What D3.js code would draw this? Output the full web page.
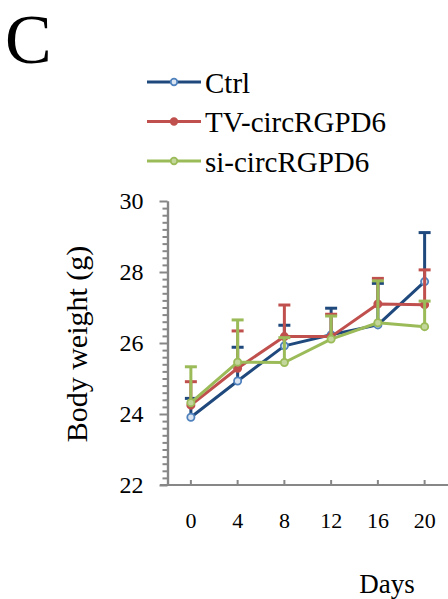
<!DOCTYPE html>
<html>
<head>
<meta charset="utf-8">
<script src="https://cdn.jsdelivr.net/npm/d3@7"></script>
<style>
  html, body { margin: 0; padding: 0; background: #fff; }
  svg { display: block; }
</style>
</head>
<body>
<svg id="chart" width="448" height="599"></svg>
<script>
// Body weight over time, three treatment groups (mean + upper SD bar)
const days = [0, 4, 8, 12, 16, 20];
const seriesNames = ["Ctrl", "TV-circRGPD6", "si-circRGPD6"];
const ctrlMean = [23.91, 24.93, 25.92, 26.23, 26.51, 27.73];
const ctrlErr  = [0.53, 0.95, 0.58, 0.75, 1.17, 1.38];
const tvMean   = [24.25, 25.29, 26.18, 26.18, 27.10, 27.08];
const tvErr    = [0.66, 1.05, 0.89, 0.63, 0.72, 0.98];
const siMean   = [24.32, 25.46, 25.45, 26.11, 26.57, 26.46];
const siErr    = [1.01, 1.19, 0.70, 0.65, 1.18, 0.72];
const yMajorTicks = [22, 24, 26, 28, 30];

const SERIF = "Liberation Serif";

const styles = [
  { line: "#1f497d", mFill: "#dbe5f1", mStroke: "#4f81bd" },
  { line: "#c0504d", mFill: "#c0504d", mStroke: "#c0504d" },
  { line: "#9bbb59", mFill: "#c3d69b", mStroke: "#9bbb59" }
];
const series = [
  { name: seriesNames[0], mean: ctrlMean, err: ctrlErr },
  { name: seriesNames[1], mean: tvMean, err: tvErr },
  { name: seriesNames[2], mean: siMean, err: siErr }
];

const svg = d3.select("#chart");
const axisColor = "#878787";

const plotLeft = 167.5, plotRight = 448, plotTop = 201, plotBottom = 485;

const x = d3.scaleBand().domain(days).range([plotLeft, plotRight]).paddingInner(0).paddingOuter(0);
const xc = d => x(d) + x.bandwidth() / 2;
const y = d3.scaleLinear().domain([22, 30]).range([plotBottom, plotTop]);

function label(sel, size) {
  return sel.attr("font-family", SERIF).attr("font-size", size).attr("fill", "#000");
}

// Panel letter
label(svg.append("text").attr("x", 5).attr("y", 63), 70).text("C");

// Legend
const legend = svg.append("g");
series.forEach((s, i) => {
  const ly = 82 + i * 39.5;
  const g = legend.append("g");
  g.append("line").attr("x1", 147).attr("x2", 201).attr("y1", ly).attr("y2", ly)
    .attr("stroke", styles[i].line).attr("stroke-width", 3);
  g.append("circle").attr("cx", 174).attr("cy", ly).attr("r", 3.3)
    .attr("fill", styles[i].mFill).attr("stroke", styles[i].mStroke).attr("stroke-width", 1.8);
  label(g.append("text").attr("x", 205).attr("y", ly + 10.5), 29).text(s.name);
});

// Y axis: minor ticks every 0.2, major every 2
const minorVals = d3.range(0, 41).map(k => 22 + k * 0.2).filter(v => !yMajorTicks.some(m => Math.abs(m - v) < 1e-6));
const yMinor = svg.append("g").attr("transform", `translate(${plotLeft},0)`)
  .call(d3.axisLeft(y).tickValues(minorVals).tickSize(5).tickSizeOuter(0).tickFormat(""));
const yMajor = svg.append("g").attr("transform", `translate(${plotLeft},0)`)
  .call(d3.axisLeft(y).tickValues(yMajorTicks).tickSize(8).tickSizeOuter(0).tickPadding(16).tickFormat(d3.format("d")));
[yMinor, yMajor].forEach(g => {
  g.attr("font-family", SERIF).attr("font-size", null);
  g.selectAll("line").attr("stroke", axisColor).attr("stroke-width", 2);
  g.select(".domain").attr("stroke", axisColor).attr("stroke-width", 2.2);
});
label(yMajor.selectAll("text"), 24);

// X axis: ticks pointing inward, line reaches past the y axis
const xAxis = svg.append("g").attr("transform", `translate(0,${plotBottom})`)
  .call(d3.axisBottom(x).tickSize(-5).tickSizeOuter(0).tickPadding(27));
xAxis.attr("font-family", SERIF).attr("font-size", null);
xAxis.select(".domain").remove();
xAxis.selectAll("line").attr("stroke", axisColor).attr("stroke-width", 2);
label(xAxis.selectAll("text"), 22);
svg.append("line").attr("x1", 160).attr("x2", plotRight).attr("y1", plotBottom).attr("y2", plotBottom)
  .attr("stroke", axisColor).attr("stroke-width", 2.2);

// Axis titles
label(svg.append("text").attr("transform", "translate(87,344) rotate(-90)")
  .attr("text-anchor", "middle"), 30).text("Body weight (g)");
label(svg.append("text").attr("x", 387).attr("y", 593).attr("text-anchor", "middle"), 27).text("Days");

// Series: upper error bars, line, markers
const lineGen = d3.line().x((d, i) => xc(days[i])).y(d => y(d));
series.forEach((s, si) => {
  const st = styles[si];
  const g = svg.append("g");
  const bars = g.selectAll(".eb").data(days).join("g");
  bars.append("line")
    .attr("x1", d => xc(d)).attr("x2", d => xc(d))
    .attr("y1", (d, i) => y(s.mean[i])).attr("y2", (d, i) => y(s.mean[i] + s.err[i]))
    .attr("stroke", st.line).attr("stroke-width", 3);
  bars.append("line")
    .attr("x1", d => xc(d) - 6).attr("x2", d => xc(d) + 6)
    .attr("y1", (d, i) => y(s.mean[i] + s.err[i])).attr("y2", (d, i) => y(s.mean[i] + s.err[i]))
    .attr("stroke", st.line).attr("stroke-width", 3);
  g.append("path").datum(s.mean).attr("d", lineGen)
    .attr("fill", "none").attr("stroke", st.line).attr("stroke-width", 3).attr("stroke-linejoin", "round");
  g.selectAll("circle").data(s.mean).join("circle")
    .attr("cx", (d, i) => xc(days[i])).attr("cy", d => y(d)).attr("r", 3.6)
    .attr("fill", st.mFill).attr("stroke", st.mStroke).attr("stroke-width", 1.8);
});
</script>
</body>
</html>
